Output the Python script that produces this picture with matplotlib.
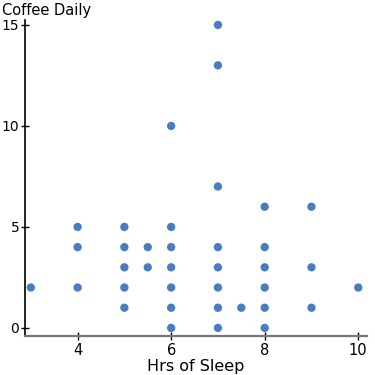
import matplotlib.pyplot as plt

# hours of sleep vs cups of coffee per day
sleep_hrs = [3, 4, 4, 4, 5, 5, 5, 5, 5, 5.5, 5.5,
             6, 6, 6, 6, 6, 6, 6,
             7, 7, 7, 7, 7, 7, 7, 7, 7.5,
             8, 8, 8, 8, 8, 8, 9, 9, 9, 10]
coffee = [2, 5, 4, 2, 5, 4, 3, 2, 1, 4, 3,
          10, 5, 4, 3, 2, 1, 0,
          15, 13, 7, 4, 3, 2, 1, 0, 1,
          6, 4, 3, 2, 1, 0, 6, 3, 1, 2]

x_ticks = [4, 6, 8, 10]
y_ticks = [0, 5, 10, 15]

fig = plt.figure(figsize=(3.75, 3.75), dpi=100)
ax = fig.add_axes([0.066, 0.104, 0.913, 0.843])

ax.scatter(sleep_hrs, coffee, s=36, color='#4a7cc3', edgecolors='none', zorder=3)

ax.set_xlim(2.87, 10.19)
ax.set_ylim(-0.4, 15.25)
ax.set_xticks(x_ticks)
ax.set_yticks(y_ticks)

for s in ['top', 'right']:
    ax.spines[s].set_visible(False)
ax.spines['left'].set_color('black')
ax.spines['left'].set_linewidth(1.2)
ax.spines['bottom'].set_color('#777777')
ax.spines['bottom'].set_linewidth(1.6)

ax.tick_params(direction='inout', length=6, width=1, color='black',
               labelsize=10.5, pad=2)
ax.tick_params(axis='y', labelsize=10, pad=1)

ax.set_xlabel("Hrs of Sleep", fontsize=11.5, labelpad=1)
fig.text(0.005, 0.993, "Coffee Daily", fontsize=10.5, ha='left', va='top')

fig.savefig("out.png", dpi=100)
